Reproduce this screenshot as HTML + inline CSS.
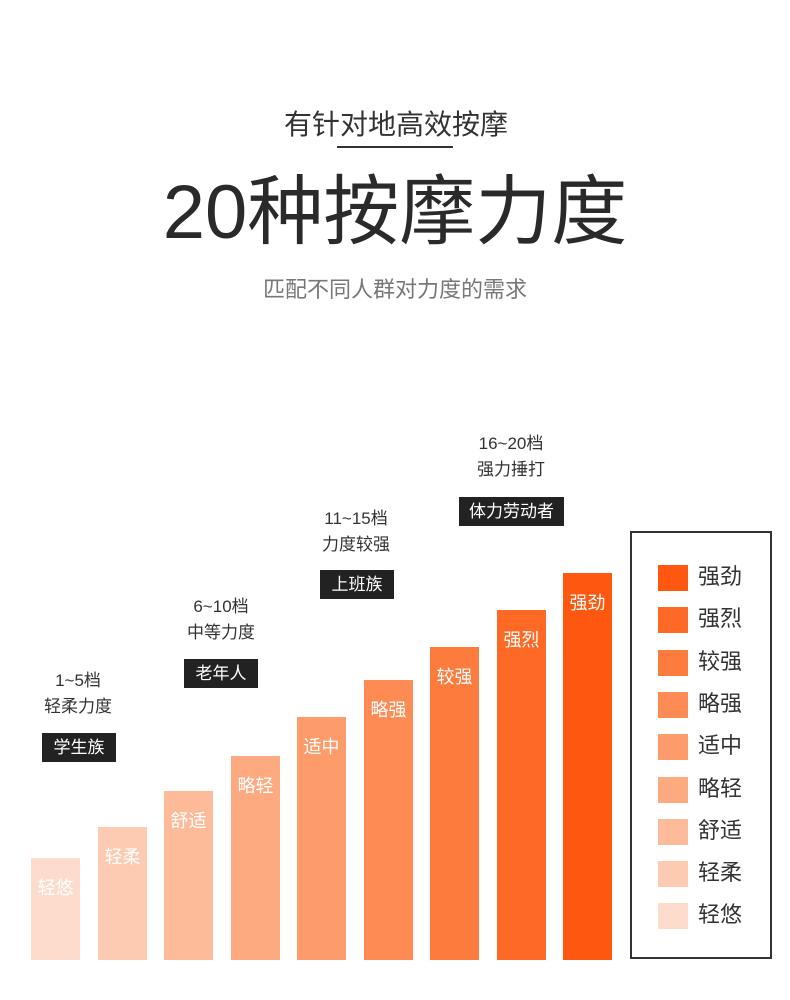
<!DOCTYPE html>
<html><head><meta charset="utf-8"><style>
body{margin:0;width:790px;height:1000px;background:#fff;position:relative;overflow:hidden;font-family:"Liberation Sans","Noto Sans CJK SC",sans-serif;}
.a{position:absolute;white-space:nowrap}
.c{transform:translateX(-50%);text-align:center}
.bar{position:absolute;width:49px;bottom:40px;color:#fff;font-size:18px;text-align:center;box-sizing:border-box;padding-top:18px;line-height:24px}
.box{position:absolute;background:#222;color:#fff;font-size:17px;text-align:center;line-height:29px;height:29px}
.t{position:absolute;font-size:17px;color:#333;transform:translateX(-50%);line-height:20px}
.lg{position:absolute;left:658px;width:30px;height:26px}
.lt{position:absolute;left:698px;font-size:22px;color:#333;line-height:26px}
</style></head><body>
<div class="a c" style="left:396px;top:103px;font-size:28px;color:#333">有针对地高效按摩</div>
<div class="a" style="left:337px;top:146px;width:116px;height:2px;background:#333"></div>
<div class="a c" style="left:395px;top:166px;font-size:76px;line-height:94px;color:#2a2a2a">20种按摩力度</div>
<div class="a c" style="left:395px;top:272px;font-size:22px;color:#777">匹配不同人群对力度的需求</div>

<div class="t" style="left:78px;top:671px">1~5档</div>
<div class="t" style="left:78px;top:697px">轻柔力度</div>
<div class="box" style="left:42px;top:733px;width:74px">学生族</div>
<div class="t" style="left:221px;top:597px">6~10档</div>
<div class="t" style="left:221px;top:623px">中等力度</div>
<div class="box" style="left:184px;top:659px;width:74px">老年人</div>
<div class="t" style="left:356px;top:509px">11~15档</div>
<div class="t" style="left:356px;top:535px">力度较强</div>
<div class="box" style="left:320px;top:570px;width:74px">上班族</div>
<div class="t" style="left:511px;top:434px">16~20档</div>
<div class="t" style="left:511px;top:460px">强力捶打</div>
<div class="box" style="left:459px;top:497px;width:105px">体力劳动者</div>

<div class="bar" style="left:31px;top:858px;background:#fddccd">轻悠</div>
<div class="bar" style="left:98px;top:827px;background:#fdcab2">轻柔</div>
<div class="bar" style="left:164px;top:791px;background:#fdbb99">舒适</div>
<div class="bar" style="left:231px;top:756px;background:#fdaa80">略轻</div>
<div class="bar" style="left:297px;top:717px;background:#fd9b6a">适中</div>
<div class="bar" style="left:364px;top:680px;background:#fe8b54">略强</div>
<div class="bar" style="left:430px;top:647px;background:#fe7b3e">较强</div>
<div class="bar" style="left:497px;top:610px;background:#fe6a26">强烈</div>
<div class="bar" style="left:563px;top:573px;background:#fe5810">强劲</div>

<div class="a" style="left:630px;top:531px;width:138px;height:424px;border:2px solid #333"></div>
<div class="lg" style="top:565px;background:#fe5810"></div><div class="lt" style="top:564px">强劲</div>
<div class="lg" style="top:607px;background:#fe6a26"></div><div class="lt" style="top:606px">强烈</div>
<div class="lg" style="top:650px;background:#fe7b3e"></div><div class="lt" style="top:649px">较强</div>
<div class="lg" style="top:692px;background:#fe8b54"></div><div class="lt" style="top:691px">略强</div>
<div class="lg" style="top:734px;background:#fd9b6a"></div><div class="lt" style="top:733px">适中</div>
<div class="lg" style="top:777px;background:#fdaa80"></div><div class="lt" style="top:776px">略轻</div>
<div class="lg" style="top:819px;background:#fdbb99"></div><div class="lt" style="top:818px">舒适</div>
<div class="lg" style="top:861px;background:#fdcab2"></div><div class="lt" style="top:860px">轻柔</div>
<div class="lg" style="top:903px;background:#fddccd"></div><div class="lt" style="top:902px">轻悠</div>
</body></html>
